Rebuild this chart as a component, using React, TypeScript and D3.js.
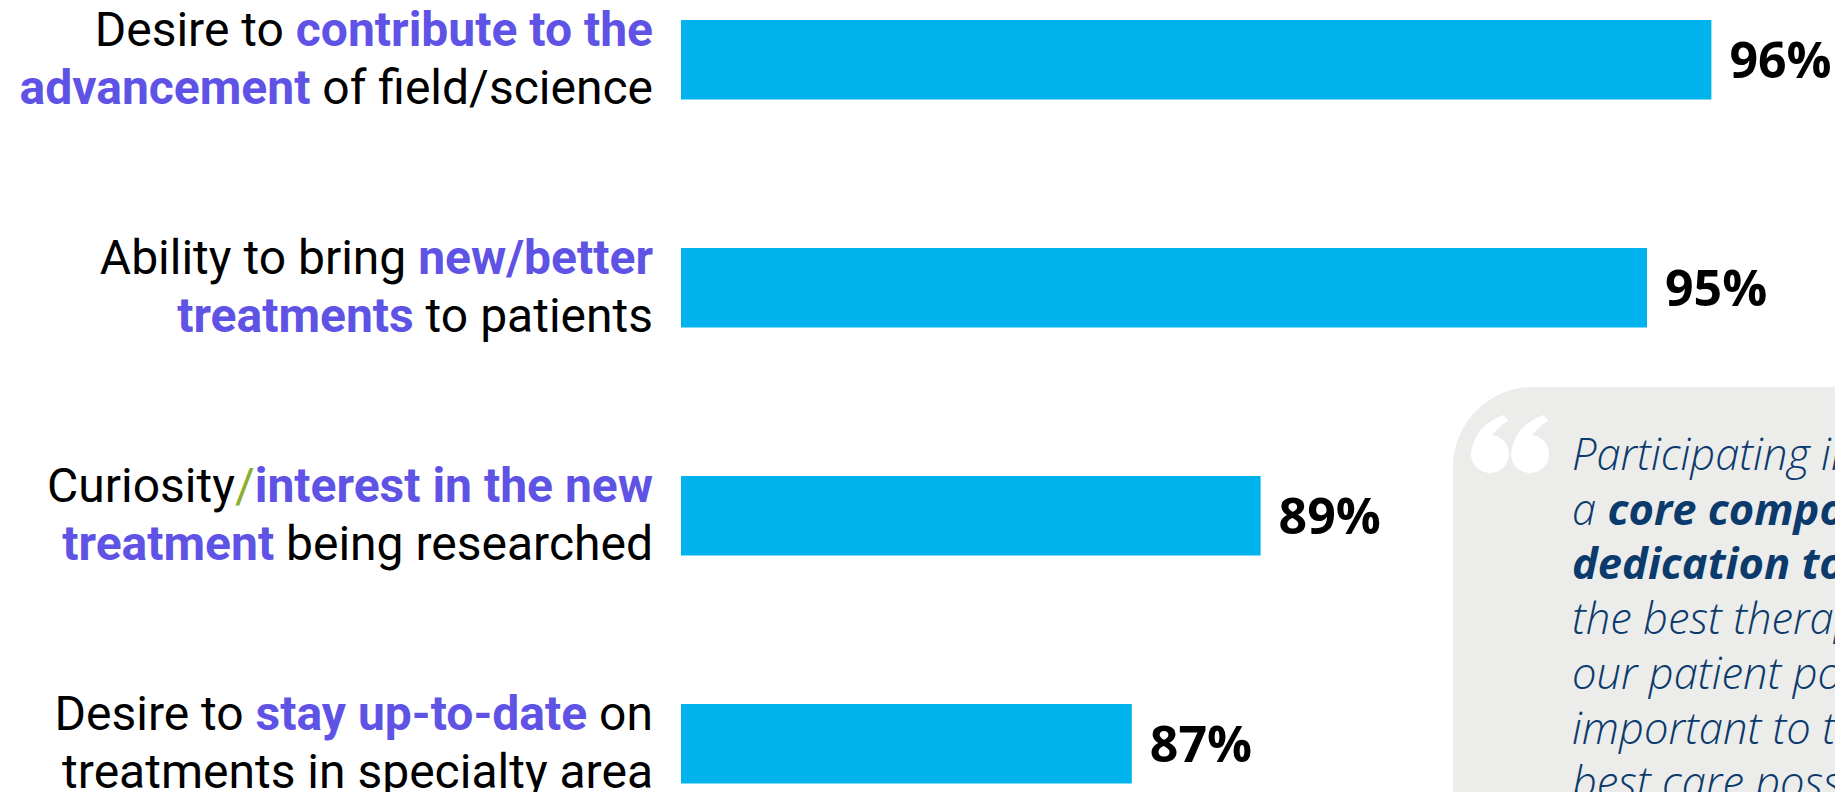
import React from "react";
import * as d3 from "d3";

const categories = ["advancement", "treatments", "curiosity", "uptodate"];
const values = [96, 95, 89, 87];
const valueLabels = ["96%", "95%", "89%", "87%"];

type Seg = [string, "n" | "b" | "g"];
const labelLines: Seg[][][] = [
  [
    [["Desire to ", "n"], ["contribute to the", "b"]],
    [["advancement", "b"], [" of field/science", "n"]],
  ],
  [
    [["Ability to bring ", "n"], ["new/better", "b"]],
    [["treatments", "b"], [" to patients", "n"]],
  ],
  [
    [["Curiosity", "n"], ["/", "g"], ["interest in the new", "b"]],
    [["treatment", "b"], [" being researched", "n"]],
  ],
  [
    [["Desire to ", "n"], ["stay up-to-date", "b"], [" on", "n"]],
    [["treatments in specialty area", "n"]],
  ],
];

type QSeg = [string, "i" | "bi"];
const quoteLines: QSeg[][] = [
  [["Participating in research is", "i"]],
  [["a ", "i"], ["core component of our", "bi"]],
  [["dedication to providing", "bi"]],
  [["the best therapies to", "i"]],
  [["our patient population. It is", "i"]],
  [["important to them to get the", "i"]],
  [["best care possible.", "i"]],
];

const W = 1835;
const H = 792;
const BLUE = "#00B3EC";
const PURPLE = "#5F53E6";
const GREEN = "#8AAE2E";
const NAVY = "#0B3A6C";

const QUOTE_TAIL = "M1,44 C-1,22 14,6 33,0 L37,6 C27,12 20,20 19,26 Z";

export default function App() {
  React.useEffect(() => {
    document.body.style.margin = "0";
  }, []);

  const x = d3.scaleLinear().domain([80, 100]).range([681, 681 + 20 * 64.4]);
  const y = d3
    .scaleBand<string>()
    .domain(categories)
    .range([20, 783.5])
    .paddingInner(0.6513)
    .paddingOuter(0);
  const bw = y.bandwidth();

  const segStyle = (k: string) => {
    if (k === "b") return { fill: PURPLE, fontWeight: 700 };
    if (k === "g") return { fill: GREEN, fontWeight: 400 };
    return { fill: "#000", fontWeight: 400 };
  };

  return (
    <svg
      width={W}
      height={H}
      viewBox={`0 0 ${W} ${H}`}
      style={{ position: "absolute", left: 0, top: 0, display: "block", background: "#fff" }}
    >
      <rect x={0} y={0} width={W} height={H} fill="#fff" />
      {/* quote box */}
      <rect x={1453} y={387} width={600} height={600} rx={80} ry={80} fill="#ECECEB" />
      {[1471, 1511].map((qx) => (
        <g key={qx} transform={`translate(${qx},415)`} fill="#fff">
          <circle cx={19} cy={39} r={19} />
          <path d={QUOTE_TAIL} />
        </g>
      ))}
      {quoteLines.map((line, i) => (
        <text
          key={i}
          x={1572}
          y={470 + i * 54.7}
          fontFamily="'Open Sans', Lato, sans-serif"
          fontStyle="italic"
          fontSize={43.5}
          fill={NAVY}
          style={{ whiteSpace: "pre" }}
        >
          {line.map(([t, k], j) => (
            <tspan key={j} fontWeight={k === "bi" ? 700 : 300}>
              {t}
            </tspan>
          ))}
        </text>
      ))}

      {categories.map((c, i) => {
        const top = y(c)!;
        const cy = top + bw / 2;
        return (
          <g key={c}>
            <rect x={x(80)} y={top} width={x(values[i]) - x(80)} height={bw} fill={BLUE} />
            <text
              x={x(values[i]) + 18}
              y={cy + 18}
              fontFamily="'Open Sans', 'Noto Sans', sans-serif"
              fontWeight={700}
              fontSize={50}
              fill="#000"
            >
              {valueLabels[i]}
            </text>
            {labelLines[i].map((line, li) => (
              <text
                key={li}
                x={653}
                y={cy - 14 + li * 58}
                textAnchor="end"
                fontFamily="Roboto, sans-serif"
                fontSize={48}
                style={{ whiteSpace: "pre" }}
              >
                {line.map(([t, k], j) => (
                  <tspan key={j} {...segStyle(k)}>
                    {t}
                  </tspan>
                ))}
              </text>
            ))}
          </g>
        );
      })}
    </svg>
  );
}
